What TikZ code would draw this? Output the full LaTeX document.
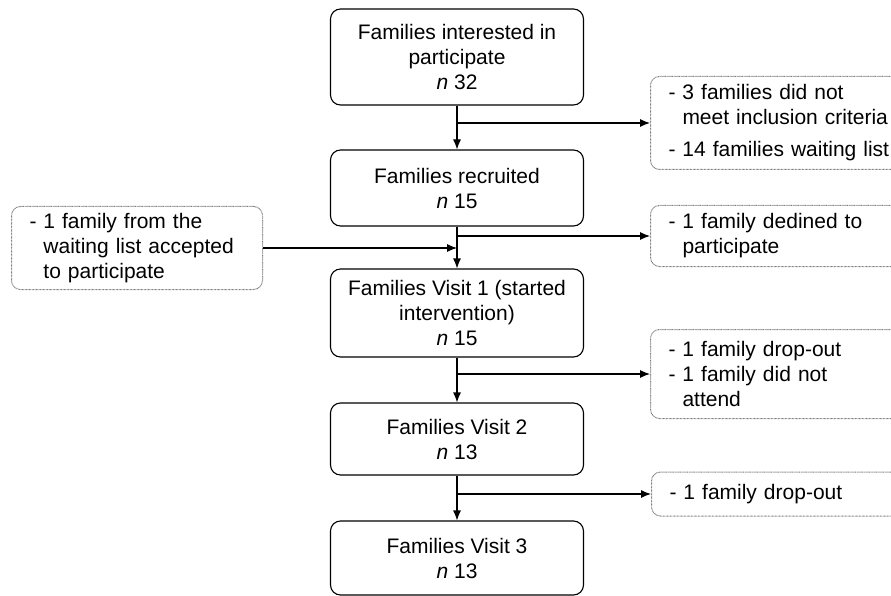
\documentclass[tikz,border=0pt]{standalone}
\usepackage{fontspec}
\setmainfont{Liberation Sans}
\usetikzlibrary{arrows.meta}
\tikzset{
	famstep/.style={draw, rounded corners=10pt, line width=1.1pt, minimum width=253pt, align=center, inner sep=2pt},
	lossbox/.style={draw=gray, dash pattern=on 0.8pt off 0.6pt, line width=1pt, rounded corners=9pt, align=left, inner xsep=18pt, inner ysep=2pt},
	flow/.style={line width=1.1pt, -{Latex[length=10pt,width=8pt]}},
	link/.style={line width=1.1pt}
}
\begin{document}
\begin{tikzpicture}[x=1pt, y=-1pt, font=\fontsize{21}{25}\selectfont]
	\useasboundingbox (0,0) rectangle (891,596);

	\node[famstep, minimum height=96pt] (fam1) at (457,57) {Families interested in\\participate\\\textit{n} 32};
	\node[famstep, minimum height=76pt] (fam2) at (457,188) {Families recruited\\\textit{n} 15};
	\node[famstep, minimum height=88pt] (fam3) at (457,313) {Families Visit 1 (started\\intervention)\\\textit{n} 15};
	\node[famstep, minimum height=72pt] (fam4) at (457,439) {Families Visit 2\\\textit{n} 13};
	\node[famstep, minimum height=74pt] (fam5) at (457,558) {Families Visit 3\\\textit{n} 13};

	\node[lossbox, anchor=west, text width=232pt, minimum height=93pt] (excl) at (650,123) {- 3 families did not\\\phantom{- }meet inclusion criteria\\[7pt]- 14 families waiting list};
	\node[lossbox, anchor=west, text width=232pt, minimum height=61pt] (decl) at (650,236) {- 1 family dedined to\\\phantom{- }participate};
	\node[lossbox, anchor=east, text width=215pt, minimum height=83pt] (wait) at (263,248) {- 1 family from the\\\phantom{- }waiting list accepted\\\phantom{- }to participate};
	\node[lossbox, anchor=west, text width=232pt, minimum height=89pt] (drop1) at (650,374) {- 1 family drop-out\\- 1 family did not\\\phantom{- }attend};
	\node[lossbox, anchor=west, text width=232pt, minimum height=44pt] (drop2) at (651,494) {- 1 family drop-out};

	\coordinate (b1) at (457,123);
	\coordinate (b2) at (457,236);
	\coordinate (j2) at (457,248);
	\coordinate (b3) at (457,374);
	\coordinate (b4) at (457,494);

	\draw[flow] (fam1) -- (fam2);
	\draw[flow] (fam2) -- (fam3);
	\draw[flow] (fam3) -- (fam4);
	\draw[flow] (fam4) -- (fam5);

	\draw[flow] (b1) -- (excl.west);
	\draw[flow] (b2) -- (decl.west);
	\draw[flow] (wait.east) -- (j2);
	\draw[flow] (b3) -- (drop1.west);
	\draw[flow] (b4) -- (drop2.west);
\end{tikzpicture}
\end{document}
